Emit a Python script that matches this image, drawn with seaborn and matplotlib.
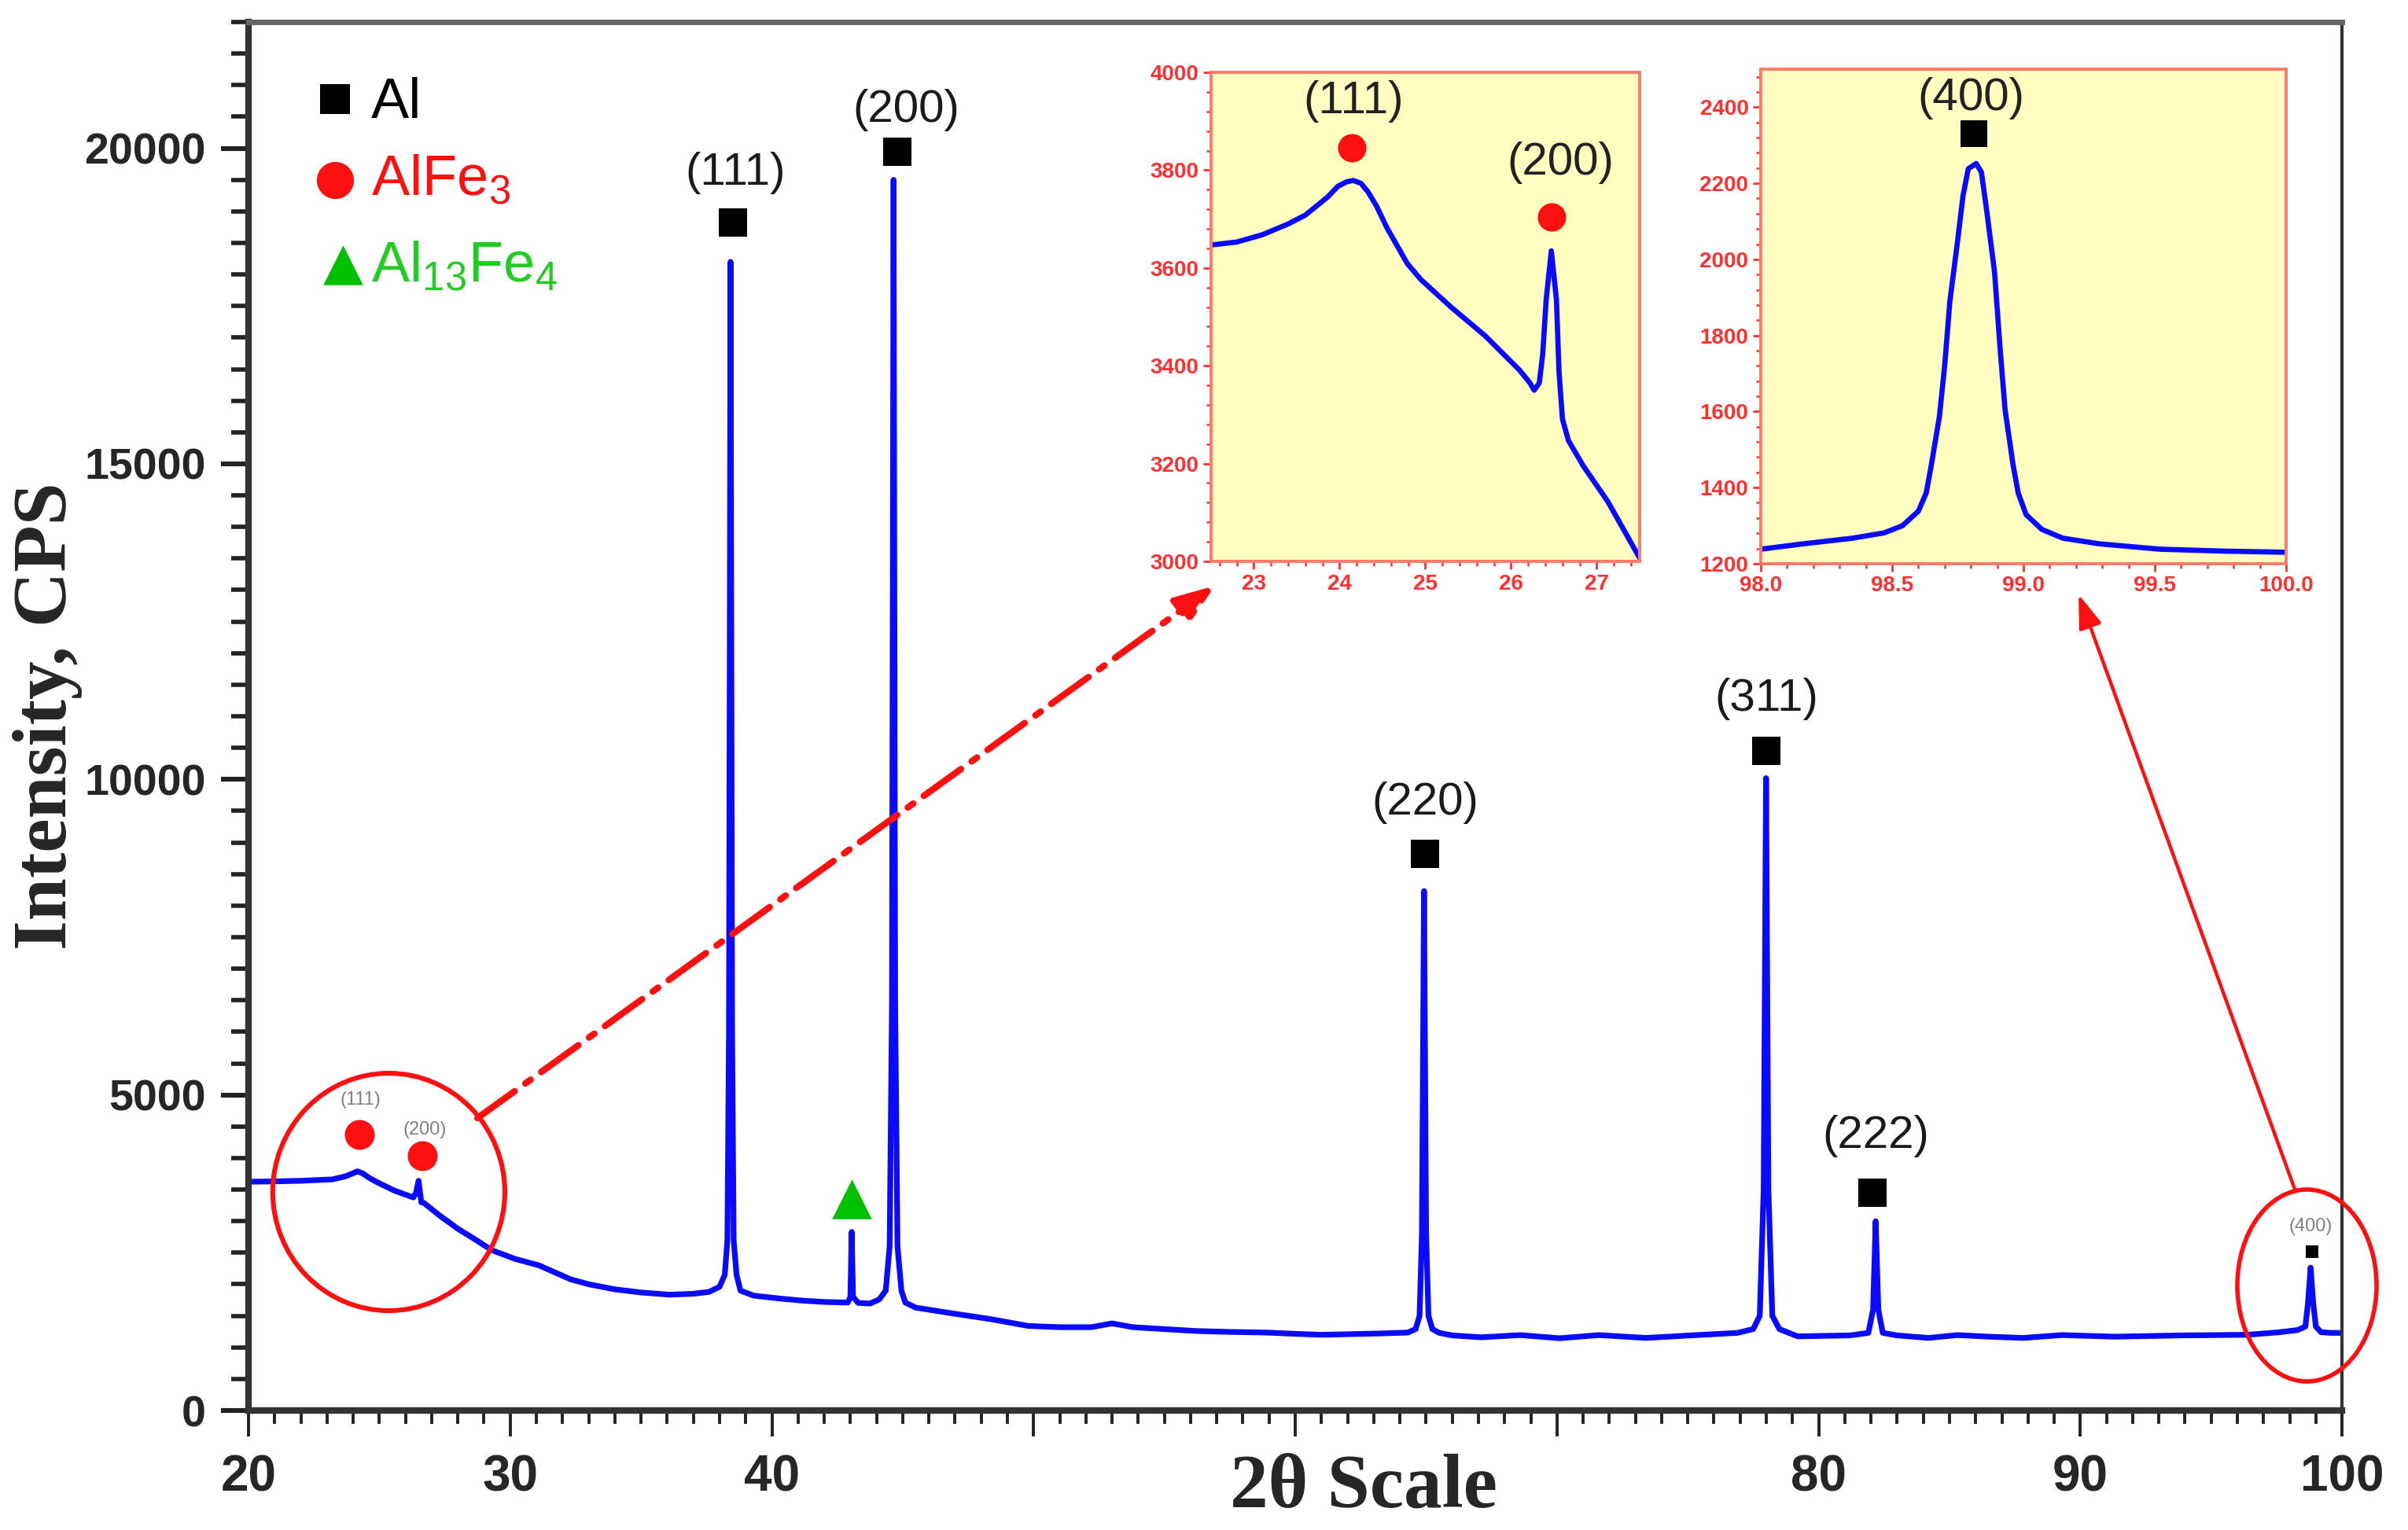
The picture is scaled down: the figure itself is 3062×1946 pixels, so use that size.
import numpy as np
import pandas as pd
import matplotlib
matplotlib.use("Agg")
import matplotlib.pyplot as plt
import seaborn as sns
from matplotlib.patches import Ellipse
from matplotlib.ticker import MultipleLocator, FixedLocator, FixedFormatter, FormatStrFormatter

# ---------------- data ----------------
main_2theta = [20.0, 21.0, 22.0, 23.2, 23.7, 24.0, 24.16, 24.35, 24.6, 24.9, 25.6, 26.3, 26.4, 26.5,
               26.6, 26.7, 27.3, 28.0, 28.7, 29.3, 30.2, 31.1, 32.3, 33.0, 34.0, 35.0, 36.1, 37.0,
               37.6, 38.0, 38.2, 38.3, 38.36, 38.42, 38.48, 38.54, 38.65, 38.8, 39.3, 40.4, 41.2,
               42.0, 42.9, 43.0, 43.05, 43.1, 43.3, 43.75, 44.1, 44.35, 44.5, 44.59, 44.65, 44.71,
               44.8, 44.95, 45.1, 45.5, 46.8, 48.4, 49.8, 51.0, 52.2, 53.0, 53.8, 55.0, 56.2, 57.5,
               58.9, 60.0, 61.0, 62.1, 63.2, 64.3, 64.6, 64.75, 64.84, 64.92, 65.0, 65.09, 65.24,
               65.5, 66.0, 67.1, 68.6, 70.1, 71.6, 73.4, 75.1, 76.9, 77.5, 77.75, 77.9, 77.99, 78.08,
               78.23, 78.5, 79.2, 81.2, 81.9, 82.08, 82.18, 82.28, 82.45, 83.0, 84.2, 85.3, 86.5,
               87.8, 89.3, 91.3, 93.9, 96.4, 97.6, 98.3, 98.6, 98.7, 98.8, 98.9, 99.0, 99.2, 99.6,
               100.0]
main_intensity = [3625, 3630, 3640, 3662, 3710, 3760, 3790, 3760, 3690, 3620, 3480, 3376, 3450, 3640,
                  3300, 3290, 3090, 2880, 2700, 2540, 2400, 2300, 2080, 2000, 1920, 1870, 1835, 1850,
                  1880, 1960, 2150, 2700, 6000, 18200, 6000, 2700, 2150, 1900, 1820, 1770, 1740,
                  1720, 1710, 1800, 2830, 1800, 1705, 1695, 1760, 1900, 2600, 6500, 19500, 6500,
                  2600, 1900, 1710, 1630, 1545, 1445, 1340, 1320, 1320, 1380, 1320, 1290, 1260, 1245,
                  1235, 1215, 1200, 1210, 1220, 1235, 1290, 1500, 2800, 8230, 2800, 1500, 1290,
                  1230, 1190, 1160, 1195, 1145, 1195, 1150, 1190, 1230, 1290, 1500, 3500, 10020, 3500,
                  1500, 1290, 1175, 1190, 1230, 1600, 3000, 1600, 1230, 1190, 1150, 1195, 1170,
                  1150, 1195, 1170, 1190, 1200, 1240, 1275, 1330, 1700, 2265, 1700, 1330, 1240, 1230,
                  1230]

inset1_2theta = [22.5, 22.8, 23.1, 23.4, 23.6, 23.86, 23.98, 24.08, 24.16, 24.25, 24.33, 24.43,
                 24.55, 24.67, 24.79, 24.95, 25.3, 25.7, 26.1, 26.22, 26.27, 26.33, 26.37, 26.41,
                 26.47, 26.53, 26.56, 26.6, 26.67, 26.84, 27.13, 27.5]
inset1_intensity = [3647, 3653, 3668, 3690, 3708, 3745, 3767, 3776, 3779, 3773, 3756, 3727,
                    3683, 3646, 3609, 3576, 3520, 3461, 3391, 3365, 3350, 3365, 3424, 3535,
                    3635, 3535, 3387, 3291, 3247, 3196, 3122, 3007]

inset2_2theta = [98.0, 98.16, 98.35, 98.47, 98.54, 98.6, 98.63, 98.65, 98.68, 98.70, 98.72, 98.75,
                 98.77, 98.79, 98.82, 98.84, 98.86, 98.89, 98.91, 98.93, 98.96, 98.98, 99.01,
                 99.07, 99.15, 99.29, 99.52, 99.76, 100.0]
inset2_intensity = [1238, 1252, 1267, 1281, 1300, 1338, 1386, 1462, 1586, 1719, 1890, 2052,
                    2167, 2238, 2252, 2229, 2129, 1967, 1776, 1605, 1462, 1386, 1329,
                    1290, 1267, 1252, 1238, 1233, 1230]

# phase markers in the main plot
al_x = [38.51, 44.79, 64.96, 78.0, 82.06]
al_y = [18823, 19943, 8820, 10452, 3450]
al_labels = ["(111)", "(200)", "(220)", "(311)", "(222)"]
al_label_x = [38.62, 45.12, 64.96, 78.0, 82.18]
al_label_y = [19607, 20604, 9629, 11274, 4347]

al400_x, al400_y = [98.86], [2516]
al400_label = "(400)"
al400_label_xy = (98.8, 2915)

alfe3_x = [24.24, 26.64]
alfe3_y = [4372, 4036]
alfe3_labels = ["(111)", "(200)"]
alfe3_label_x = [24.27, 26.73]
alfe3_label_y = [4921, 4447]

al13fe4_x = [43.05]
al13fe4_y = [3351]

# inset markers
in1_circle_x = [24.14, 26.47]
in1_circle_y = [3845, 3705]
in1_labels = ["(111)", "(200)"]
in1_label_x = [24.16, 26.58]
in1_label_y = [3941, 3815]

in2_square_x = [98.81]
in2_square_y = [2330]
in2_label = "(400)"
in2_label_xy = (98.80, 2424)

x_ticks = [20, 30, 40, 50, 60, 70, 80, 90, 100]
x_tick_labels = ["20", "30", "40", "", "", "", "80", "90", "100"]
y_ticks = [0, 5000, 10000, 15000, 20000]

# ---------------- style ----------------
sns.set_theme(style="ticks")
plt.rcParams["font.family"] = ["Liberation Sans", "DejaVu Sans"]
plt.rcParams["mathtext.fontset"] = "custom"
plt.rcParams["mathtext.rm"] = "Liberation Sans"
plt.rcParams["mathtext.default"] = "regular"

BLUE = "#0a0aff"
RED = "#ff1010"
GREEN = "#00c000"
INSET_BG = "#fffdc0"
INSET_EDGE = "#ff7a6a"
INSET_TXT = "#ff3030"

fig = plt.figure(figsize=(15.31, 9.73), dpi=200)
fig.patch.set_facecolor("white")
ax = fig.add_axes([0.1032, 0.0781, 0.8694, 0.9075])
ax.set_facecolor("white")

df_main = pd.DataFrame({"two_theta": main_2theta, "intensity": main_intensity})
sns.lineplot(data=df_main, x="two_theta", y="intensity", ax=ax, color=BLUE, lw=2.6,
             estimator=None, sort=False, legend=False)

ax.set_xlim(20, 100)
ax.set_ylim(0, 22000)
ax.xaxis.set_major_locator(FixedLocator(x_ticks))
ax.xaxis.set_major_formatter(FixedFormatter(x_tick_labels))
ax.xaxis.set_minor_locator(MultipleLocator(1))
ax.yaxis.set_major_locator(FixedLocator(y_ticks))
ax.yaxis.set_minor_locator(MultipleLocator(500))
ax.tick_params(axis="y", which="major", length=12.6, width=2.2, direction="out", color="#222",
               labelsize=20, pad=7)
ax.tick_params(axis="y", which="minor", length=8, width=2.0, direction="out", color="#222")
ax.tick_params(axis="x", which="major", length=12, width=1.4, direction="out", color="#222",
               labelsize=23, pad=8)
ax.tick_params(axis="x", which="minor", length=6, width=1.4, direction="out", color="#222")
for lab in ax.get_xticklabels() + ax.get_yticklabels():
    lab.set_fontweight("bold")
for side, lw, col in [("left", 3, "#333333"), ("bottom", 3, "#333333"),
                      ("top", 2.5, "#666666"), ("right", 1.5, "#333333")]:
    ax.spines[side].set_linewidth(lw)
    ax.spines[side].set_color(col)
    ax.spines[side].set_visible(True)

ax.set_xlabel("2θ Scale", fontfamily=["Liberation Serif", "DejaVu Serif"], fontweight="bold",
              fontsize=35, va="center")
ax.xaxis.set_label_coords(0.5327, -0.056)
ax.set_ylabel("Intensity, CPS", fontfamily=["Liberation Serif", "DejaVu Serif"], fontweight="bold",
              fontsize=35, va="center")
ax.yaxis.set_label_coords(-0.096, 0.5)

# markers
sns.scatterplot(x=al_x, y=al_y, ax=ax, marker="s", s=159, color="black", linewidth=0, zorder=5)
sns.scatterplot(x=al400_x, y=al400_y, ax=ax, marker="s", s=36, color="black", linewidth=0, zorder=5)
sns.scatterplot(x=alfe3_x, y=alfe3_y, ax=ax, marker="o", s=187, color=RED, linewidth=0, zorder=5)
sns.scatterplot(x=al13fe4_x, y=al13fe4_y, ax=ax, marker="^", s=330, color=GREEN, linewidth=0, zorder=5)

for lx, ly, t in zip(al_label_x, al_label_y, al_labels):
    ax.text(lx, ly, t, ha="center", va="center", fontsize=21, color="#1a1a1a")
for lx, ly, t in zip(alfe3_label_x, alfe3_label_y, alfe3_labels):
    ax.text(lx, ly, t, ha="center", va="center", fontsize=8.5, color="#808080")
ax.text(al400_label_xy[0], al400_label_xy[1], al400_label, ha="center", va="center",
        fontsize=8.5, color="#808080")

# ellipses highlighting regions
ax.add_patch(Ellipse((25.36, 3463), 8.87, 3762, fill=False, ec=RED, lw=2.2, clip_on=False, zorder=6))
ax.add_patch(Ellipse((98.66, 1981), 5.32, 3040, fill=False, ec=RED, lw=2.0, clip_on=False, zorder=6))

# legend
leg_items = [("s", 187, "black", "Al", "black", 0.9445, 0.9309, 0.0413),
             ("o", 289, RED, "AlFe$_3$", RED, 0.8862, 0.8754, 0.0413),
             ("^", 330, GREEN, "Al$_{13}$Fe$_4$", "#22cc22", 0.8250, 0.8131, 0.0450)]
for mk, sz, mc, txt, tc, my, ty, mx in leg_items:
    ax.scatter([mx], [my], marker=mk, s=sz, color=mc, linewidths=0, transform=ax.transAxes,
               clip_on=False, zorder=6)
    ax.text(0.0586, ty, txt, transform=ax.transAxes, fontsize=26, color=tc, ha="left", va="baseline")

# arrows to insets
ax.annotate("", xy=(0.5046, 0.6172), xycoords="figure fraction", xytext=(28.75, 4634),
            textcoords="data",
            arrowprops=dict(arrowstyle="-|>,head_length=1.5,head_width=0.55", color=RED, lw=3,
                            linestyle=(0, (7, 2, 1, 2)), shrinkA=0, shrinkB=0, mutation_scale=10))
ax.annotate("", xy=(0.8632, 0.6115), xycoords="figure fraction", xytext=(98.2, 3500),
            textcoords="data",
            arrowprops=dict(arrowstyle="-|>,head_length=1.3,head_width=0.45", color=RED, lw=1.6,
                            shrinkA=0, shrinkB=0, mutation_scale=10))


def style_inset(a):
    a.set_facecolor(INSET_BG)
    for s in a.spines.values():
        s.set_visible(True)
        s.set_color(INSET_EDGE)
        s.set_linewidth(1.4)
    a.tick_params(which="major", length=3.6, width=1.0, color=INSET_TXT, labelcolor=INSET_TXT,
                  labelsize=10, direction="out", pad=2)
    a.tick_params(which="minor", length=2, width=0.9, color=INSET_TXT, direction="out")
    a.set_xlabel("")
    a.set_ylabel("")
    for lab in a.get_xticklabels() + a.get_yticklabels():
        lab.set_fontweight("bold")


# inset 1
ax1 = fig.add_axes([0.5029, 0.6331, 0.1780, 0.3196])
df1 = pd.DataFrame({"two_theta": inset1_2theta, "intensity": inset1_intensity})
sns.lineplot(data=df1, x="two_theta", y="intensity", ax=ax1, color=BLUE, lw=2.4,
             estimator=None, sort=False, legend=False)
ax1.set_xlim(22.5, 27.5)
ax1.set_ylim(3000, 4000)
ax1.xaxis.set_major_locator(MultipleLocator(1))
ax1.xaxis.set_minor_locator(MultipleLocator(0.2))
ax1.yaxis.set_major_locator(MultipleLocator(200))
ax1.yaxis.set_minor_locator(MultipleLocator(40))
sns.scatterplot(x=in1_circle_x, y=in1_circle_y, ax=ax1, marker="o", s=169, color=RED,
                linewidth=0, zorder=5)
for lx, ly, t in zip(in1_label_x, in1_label_y, in1_labels):
    ax1.text(lx, ly, t, ha="center", va="center", fontsize=21, color="#222222")
style_inset(ax1)

# inset 2
ax2 = fig.add_axes([0.7312, 0.6316, 0.2182, 0.3232])
df2 = pd.DataFrame({"two_theta": inset2_2theta, "intensity": inset2_intensity})
sns.lineplot(data=df2, x="two_theta", y="intensity", ax=ax2, color=BLUE, lw=2.4,
             estimator=None, sort=False, legend=False)
ax2.set_xlim(98, 100)
ax2.set_ylim(1200, 2500)
ax2.xaxis.set_major_locator(MultipleLocator(0.5))
ax2.xaxis.set_major_formatter(FormatStrFormatter("%.1f"))
ax2.xaxis.set_minor_locator(MultipleLocator(0.1))
ax2.yaxis.set_major_locator(MultipleLocator(200))
ax2.yaxis.set_minor_locator(MultipleLocator(40))
sns.scatterplot(x=in2_square_x, y=in2_square_y, ax=ax2, marker="s", s=144, color="black",
                linewidth=0, zorder=5)
ax2.text(in2_label_xy[0], in2_label_xy[1], in2_label, ha="center", va="center", fontsize=21,
         color="#222222")
style_inset(ax2)

fig.savefig("out.png", dpi=200, facecolor="white")
